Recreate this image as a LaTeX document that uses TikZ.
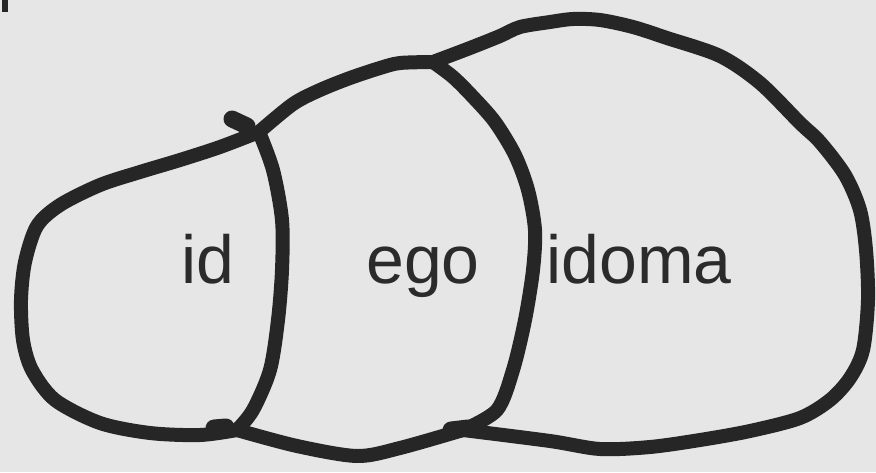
\documentclass[tikz,border=0pt]{standalone}
\usepackage{fontspec}
\setmainfont{Liberation Sans}
\definecolor{bgc}{HTML}{E6E6E6}
\definecolor{ink}{HTML}{262626}
\definecolor{txt}{HTML}{2B2B2B}
\tikzset{
  stroke/.style={draw=ink, line width=14pt, line cap=round, line join=round},
  knot/.style={draw=ink, line width=17pt, line cap=round},
  lbl/.style={text=txt, inner sep=0pt, anchor=base, font=\fontsize{68}{68}\selectfont}
}
\begin{document}
\begin{tikzpicture}[x=1pt,y=-1pt]
\fill[bgc] (0,0) rectangle (876,472);
\useasboundingbox (0,0) rectangle (876,472);
\fill[ink] (2,0) rectangle (8,12);
\coordinate (J1) at (259,132);
\coordinate (J2) at (433,62);
\coordinate (J3) at (237,430);
\coordinate (J4) at (463,430);
% left arc of id
\draw[stroke] plot[smooth] coordinates {(J1) (220,147) (180,160) (140,172) (100,185) (60,205) (37,226) (25,262) (21,300) (23,340) (32,370) (55,400) (100,423) (150,433) (200,435) (J3)};
% bottom of ego
\draw[stroke] plot[smooth] coordinates {(J3) (297,446) (357,456) (400,448) (J4)};
% outer boundary of idoma
\draw[stroke] plot[smooth] coordinates {(J4) (550,441) (600,449) (650,447) (700,440) (750,431) (800,418) (830,400) (850,378) (863,350) (868,300) (866,250) (860,210) (845,175) (820,142) (800,123) (760,83) (720,56) (667,38) (633,27) (600,20) (573,19) (550,22) (520,27) (500,36) (470,48) (J2)};
% top of ego
\draw[stroke] plot[smooth] coordinates {(J2) (400,63) (380,68) (350,78) (320,90) (293,104) (J1)};
% dividers
\draw[stroke] plot[smooth] coordinates {(J1) (273,170) (282,220) (282,270) (278,320) (270,370) (253,410) (J3)};
\draw[stroke] plot[smooth] coordinates {(J2) (453,77) (473,97) (495,122) (515,155) (528,190) (535,230) (533,270) (525,320) (513,370) (497,410) (J4)};
% stroke knots
\draw[knot] (232,119) -- (247,126);
\draw[knot] (214,428) -- (226,427);
\draw[knot] (451,430) -- (468,428);
% labels
\node[lbl] (id) at (208,283) {id};
\node[lbl] (ego) at (423,283) {ego};
\node[lbl] (idoma) at (639,283) {idoma};
\end{tikzpicture}
\end{document}
